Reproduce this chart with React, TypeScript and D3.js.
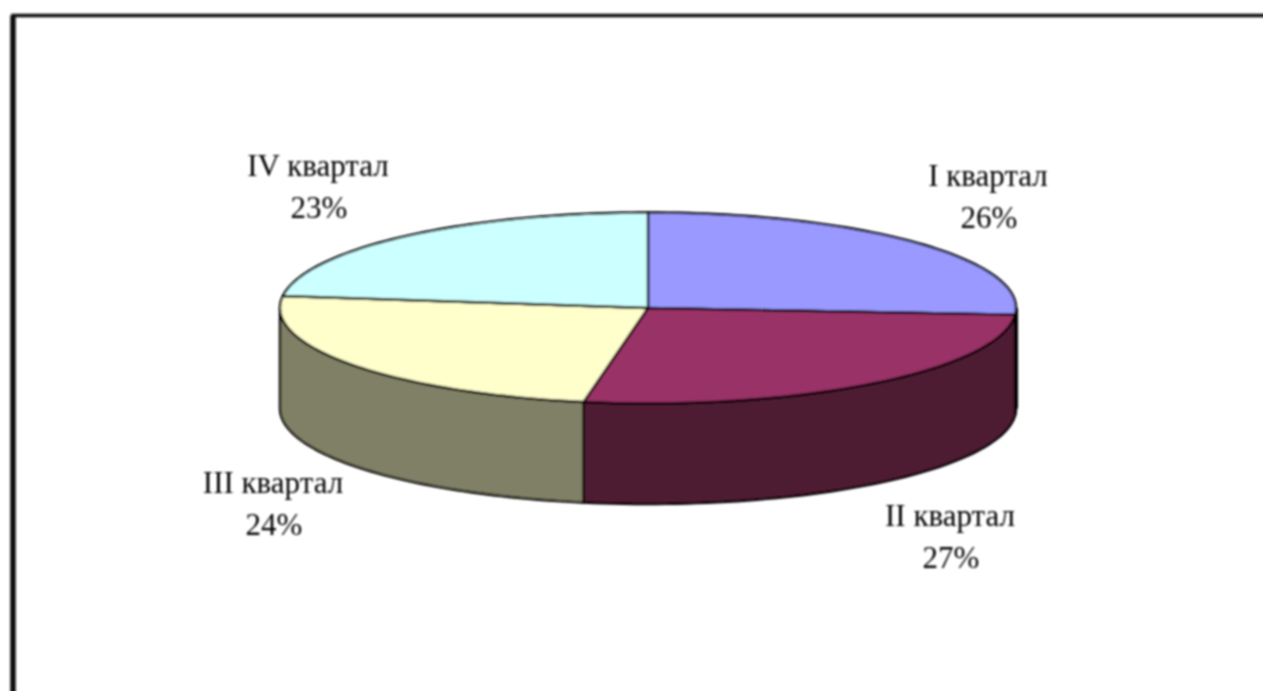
import React from "react";
import * as d3 from "d3";

const categories = ["I квартал", "II квартал", "III квартал", "IV квартал"];
const shares = [26.1, 26.7, 24.2, 23.0];
const topColors = ["#9999ff", "#993366", "#ffffcc", "#ccffff"];
const sideColors = ["#4d4d80", "#4d1a33", "#808066", "#668080"];
const labelAnchors: [number, number][] = [
  [988, 186],
  [950, 526],
  [273, 493],
  [318, 176],
];

const W = 1263;
const H = 691;
const cx = 648;
const cy = 308;
const rx = 368;
const ry = 95.5;
const depth = 100.5;

const arcs = d3.pie<number>().sort(null).startAngle(0).endAngle(2 * Math.PI)(shares);
const px = (a: number) => cx + rx * Math.sin(a);
const py = (a: number) => cy - ry * Math.cos(a);

const slicePath = (a0: number, a1: number) => {
  const n = 60;
  const pts = d3.range(n + 1).map((i) => {
    const a = a0 + ((a1 - a0) * i) / n;
    return [px(a), py(a)] as [number, number];
  });
  return `M${cx},${cy}L` + pts.map((p) => p.join(",")).join("L") + "Z";
};

const sidePath = (a0: number, a1: number) => {
  const lo = Math.max(a0, Math.PI / 2);
  const hi = Math.min(a1, (3 * Math.PI) / 2);
  if (hi <= lo) return null;
  const n = 60;
  const pts = d3.range(n + 1).map((i) => {
    const a = lo + ((hi - lo) * i) / n;
    return [px(a), py(a)] as [number, number];
  });
  const bottom = pts.slice().reverse().map(([x, y]) => [x, y + depth] as [number, number]);
  return "M" + pts.concat(bottom).map((p) => p.join(",")).join("L") + "Z";
};

export default function App() {
  const rightEdge = Math.PI / 2;
  return (
    <svg
      width={W}
      height={H}
      style={{ position: "absolute", left: 0, top: 0, display: "block", background: "#fff" }}
    >
      <defs>
        <filter id="soft" filterUnits="userSpaceOnUse" x="0" y="0" width={W} height={H}>
          <feGaussianBlur stdDeviation="0.9" />
        </filter>
      </defs>
      <g filter="url(#soft)">
        <path d={`M13,${H + 5}V15.5H${W + 5}`} fill="none" stroke="#111" strokeWidth={3.5} />
        <path d={`M13,${H + 5}V15.5`} fill="none" stroke="#111" strokeWidth={5.5} />
        {arcs.map((d, i) => {
          const p = sidePath(d.startAngle, d.endAngle);
          return p ? (
            <path key={i} d={p} fill={sideColors[i]} stroke="#000" strokeWidth={2.4} strokeLinejoin="round" />
          ) : null;
        })}
        <line
          x1={px(rightEdge)}
          x2={px(rightEdge)}
          y1={py(rightEdge)}
          y2={py(rightEdge) + depth}
          stroke="#000"
          strokeWidth={4}
        />
        {arcs.map((d, i) => (
          <path
            key={i}
            d={slicePath(d.startAngle, d.endAngle)}
            fill={topColors[i]}
            stroke="#000"
            strokeWidth={2.4}
            strokeLinejoin="round"
          />
        ))}
        {categories.map((c, i) => (
          <text
            key={c}
            x={labelAnchors[i][0]}
            y={labelAnchors[i][1]}
            textAnchor="middle"
            fontFamily="'Liberation Serif', serif"
            fontSize={31}
            fill="#000"
          >
            <tspan x={labelAnchors[i][0]}>{c}</tspan>
            <tspan x={labelAnchors[i][0] + 1} dy={42}>
              {Math.round(shares[i])}%
            </tspan>
          </text>
        ))}
      </g>
    </svg>
  );
}
